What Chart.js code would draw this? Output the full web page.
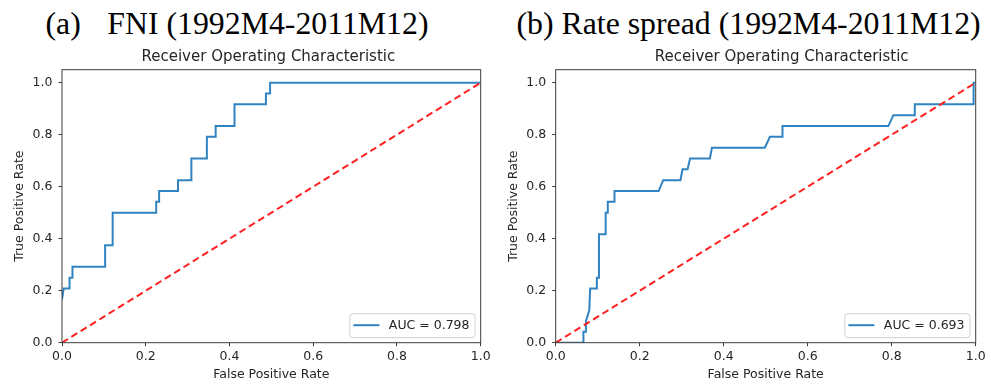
<!DOCTYPE html>
<html><head><meta charset="utf-8">
<script src="https://cdn.jsdelivr.net/npm/chart.js@4.4.0/dist/chart.umd.min.js"></script>
<style>
html,body{margin:0;padding:0;background:#fff;}
body{width:991px;height:385px;position:relative;overflow:hidden;}
.big{position:absolute;top:7.5px;font-family:"Liberation Serif","Times New Roman",serif;font-size:31.8px;line-height:1;color:#000;white-space:pre;}
canvas{position:absolute;top:40px;}
</style></head><body>
<div class="big" style="left:45.5px"><span id="lA"></span><span id="nA" style="margin-left:26.5px"></span></div>
<div class="big" style="left:516.5px"><span id="lB"></span> <span id="nB"></span></div>
<canvas id="cA" width="494" height="345" style="left:0"></canvas>
<canvas id="cB" width="497" height="345" style="left:494px"></canvas>
<script>
const panelLetters = ['(a)', '(b)'];
const panelNames = ['FNI (1992M4-2011M12)', 'Rate spread (1992M4-2011M12)'];
const chartTitle = 'Receiver Operating Characteristic';
const xAxisLabel = 'False Positive Rate';
const yAxisLabel = 'True Positive Rate';
const aucValues = [0.798, 0.693];

const fprA = [0, 0.004, 0.018, 0.018, 0.025, 0.025, 0.103, 0.103, 0.121, 0.121, 0.225, 0.225, 0.232, 0.232, 0.277, 0.277, 0.309, 0.309, 0.346, 0.346, 0.367, 0.367, 0.412, 0.412, 0.487, 0.487, 0.497, 0.497, 1.0];
const tprA = [0.167, 0.208, 0.208, 0.25, 0.25, 0.292, 0.292, 0.375, 0.375, 0.5, 0.5, 0.542, 0.542, 0.583, 0.583, 0.625, 0.625, 0.708, 0.708, 0.792, 0.792, 0.833, 0.833, 0.917, 0.917, 0.958, 0.958, 1.0, 1.0];

const fprB = [0, 0.066, 0.066, 0.072, 0.072, 0.080, 0.082, 0.098, 0.098, 0.103, 0.103, 0.119, 0.119, 0.124, 0.124, 0.140, 0.140, 0.245, 0.256, 0.297, 0.302, 0.314, 0.320, 0.367, 0.372, 0.498, 0.510, 0.540, 0.540, 0.792, 0.804, 0.855, 0.855, 0.995, 0.995, 1.0];
const tprB = [0, 0, 0.042, 0.042, 0.083, 0.125, 0.208, 0.208, 0.25, 0.25, 0.417, 0.417, 0.5, 0.5, 0.542, 0.542, 0.583, 0.583, 0.625, 0.625, 0.667, 0.667, 0.708, 0.708, 0.75, 0.75, 0.792, 0.792, 0.833, 0.833, 0.875, 0.875, 0.917, 0.917, 1.0, 1.0];

const chanceX = [0, 1];
const chanceY = [0, 1];
const xTicks = [0, 0.2, 0.4, 0.6, 0.8, 1.0];
const yTicks = [0, 0.2, 0.4, 0.6, 0.8, 1.0];

document.getElementById('lA').textContent = panelLetters[0];
document.getElementById('nA').textContent = panelNames[0];
document.getElementById('lB').textContent = panelLetters[1];
document.getElementById('nB').textContent = panelNames[1];

const FONT = '"DejaVu Sans", Verdana, sans-serif';
const TXT = '#262626';
const AX = '#3c3c3c';
const BLUE = '#3083c0';

const overlayPlugin = {
  id: 'overlay',
  afterDatasetsDraw(chart, args, opts) {
    const {ctx, chartArea: a} = chart;
    ctx.save();
    // axes frame
    ctx.strokeStyle = AX;
    ctx.lineWidth = 1;
    ctx.strokeRect(a.left, a.top, a.right - a.left, a.bottom - a.top);
    // chart title
    ctx.font = '15px ' + FONT;
    ctx.fillStyle = TXT;
    ctx.textAlign = 'center';
    ctx.textBaseline = 'middle';
    ctx.fillText(opts.text, (a.left + a.right) / 2 + opts.shift, 17.5);
    // legend
    const ds = chart.data.datasets[0];
    ctx.font = '12.5px ' + FONT;
    const tw = ctx.measureText(ds.label).width;
    const padL = 3.5, lineLen = 26, gap = 9.5, padR = 5.5;
    const w = padL + lineLen + gap + tw + padR, h = 24;
    const right = a.right - 5.7, bottom = a.bottom - 5;
    const left = right - w, top = bottom - h;
    ctx.beginPath();
    ctx.roundRect(left, top, w, h, 3);
    ctx.fillStyle = 'rgba(255,255,255,0.85)';
    ctx.fill();
    ctx.strokeStyle = '#d0d0d0';
    ctx.lineWidth = 1;
    ctx.stroke();
    const cy = top + h / 2 - 0.5;
    ctx.beginPath();
    ctx.moveTo(left + padL, cy);
    ctx.lineTo(left + padL + lineLen, cy);
    ctx.strokeStyle = ds.borderColor;
    ctx.lineWidth = ds.borderWidth;
    ctx.stroke();
    ctx.fillStyle = TXT;
    ctx.textBaseline = 'middle';
    ctx.textAlign = 'left';
    ctx.fillText(ds.label, left + padL + lineLen + gap, cy + 0.5);
    ctx.restore();
  }
};

function makeChart(id, fpr, tpr, auc, yWidth, padRight, yTitlePad, titleShift) {
  const roc = fpr.map((x, i) => ({x: x, y: tpr[i]}));
  const chance = chanceX.map((x, i) => ({x: x, y: chanceY[i]}));
  return new Chart(document.getElementById(id), {
    type: 'scatter',
    data: {
      datasets: [
        {label: 'AUC = ' + auc.toFixed(3), data: roc, showLine: true, borderColor: BLUE, borderWidth: 2, pointRadius: 0, order: 1, tension: 0},
        {label: 'chance', data: chance, showLine: true, borderColor: '#ff2020', borderWidth: 2, borderDash: [7, 4], pointRadius: 0, order: 0}
      ]
    },
    options: {
      responsive: false,
      devicePixelRatio: 1,
      animation: false,
      events: [],
      layout: {padding: {left: 0, right: padRight, top: 29.7, bottom: 0}},
      plugins: {
        legend: {display: false},
        tooltip: {enabled: false},
        title: {display: false},
        overlay: {text: chartTitle, shift: titleShift}
      },
      scales: {
        x: {
          type: 'linear', min: 0, max: 1,
          afterBuildTicks: s => { s.ticks = xTicks.map(v => ({value: v})); },
          afterFit: s => { s.height = 42.3; },
          ticks: {color: TXT, font: {family: FONT, size: 12.5}, padding: 3, maxRotation: 0, autoSkip: false, callback: v => v.toFixed(1)},
          grid: {display: true, drawOnChartArea: false, drawTicks: true, tickLength: 3.5, tickColor: AX, tickWidth: 1},
          border: {display: false},
          title: {display: true, text: xAxisLabel, color: TXT, font: {family: FONT, size: 12.5, lineHeight: 1.2}, padding: {top: 0, bottom: 2.5}}
        },
        y: {
          type: 'linear', min: 0, max: 1.05,
          afterBuildTicks: s => { s.ticks = yTicks.map(v => ({value: v})); },
          afterFit: s => { s.width = yWidth; },
          ticks: {color: TXT, font: {family: FONT, size: 12.5}, padding: 6, autoSkip: false, callback: v => v.toFixed(1)},
          grid: {display: true, drawOnChartArea: false, drawTicks: true, tickLength: 3.5, tickColor: AX, tickWidth: 1},
          border: {display: false},
          title: {display: true, text: yAxisLabel, color: TXT, font: {family: FONT, size: 12.5, lineHeight: 1.2}, padding: {top: yTitlePad, bottom: 0}}
        }
      }
    },
    plugins: [overlayPlugin]
  });
}

makeChart('cA', fprA, tprA, aucValues[0], 62, 13.3, 12.5, -3);
makeChart('cB', fprB, tprB, aucValues[1], 61.7, 15.3, 11.8, 16);
</script>
</body></html>
